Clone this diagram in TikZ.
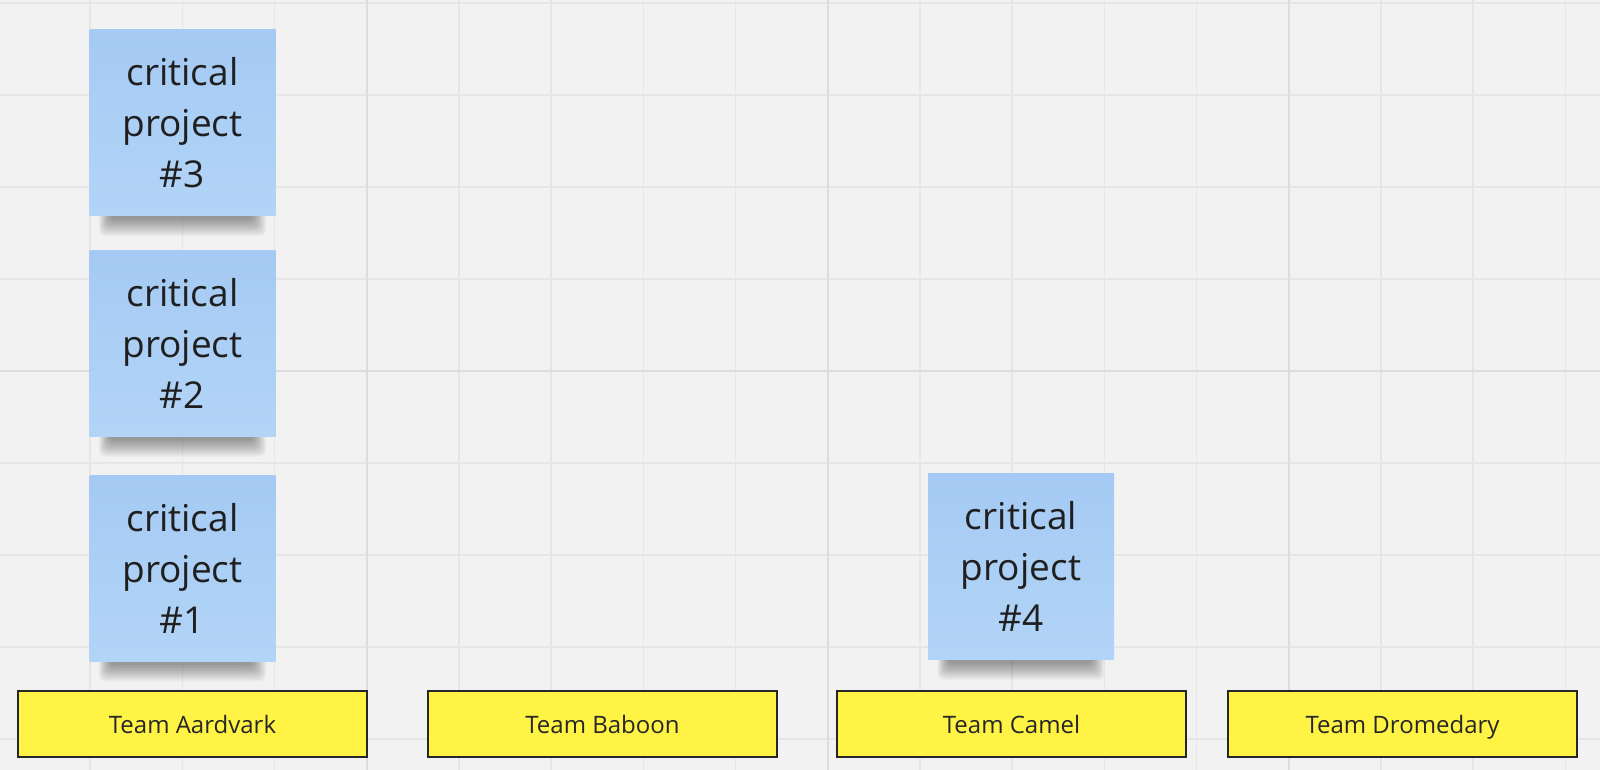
\documentclass[tikz,border=0pt]{standalone}
\usepackage{fontspec}
\setmainfont{Open Sans}
\usetikzlibrary{backgrounds,positioning}
\definecolor{boardgrey}{HTML}{F2F2F2}
\definecolor{gridgrey}{HTML}{E6E6E6}
\definecolor{majorgrey}{HTML}{DCDCDC}
\definecolor{notetop}{HTML}{A5CAF3}
\definecolor{notebottom}{HTML}{B2D4F7}
\definecolor{teamyellow}{HTML}{FFF445}
\definecolor{inkgrey}{HTML}{262626}
\tikzset{sticky/.style={rectangle,top color=notetop,bottom color=notebottom,minimum width=93pt,minimum height=93pt,inner sep=0,align=center,text=black!88,font=\fontsize{18.5}{25.5}\selectfont},
    teamlabel/.style={rectangle,draw=inkgrey,line width=0.8pt,fill=teamyellow,minimum width=174.5pt,minimum height=33pt,inner sep=0,text height=12.4pt,text depth=2.6pt,text=inkgrey,font=\fontsize{12}{14}\selectfont},
    gridline/.style={gridgrey,line width=0.8pt},
    majorline/.style={majorgrey,line width=1pt}
}
\newcommand{\noteshadow}[1]
{
% args: (name of the sticky note)
    \foreach \i in {0,...,11}
        \fill [black,opacity=0.035,rounded corners=3pt] ([xshift=5pt+\i*0.5pt,yshift=3pt]#1.south west) rectangle ([xshift=-5pt-\i*0.6pt,yshift=-10pt+\i*0.75pt]#1.south east);
}

\begin{document}
\begin{tikzpicture}[x=0.5pt,y=-0.5pt]
\useasboundingbox (0,0) rectangle (1600,770);

%% board and grid
\begin{scope}[on background layer]
\fill [boardgrey] (0,0) rectangle (1600,770);
\foreach \i in {0,...,17}
    \draw [gridline] (-2+92.2*\i,0) -- (-2+92.2*\i,770);
\foreach \j in {0,...,8}
    \draw [gridline] (0,3+92*\j) -- (1600,3+92*\j);
\foreach \i in {4,9,14}
    \draw [majorline] (-2+92.2*\i,0) -- (-2+92.2*\i,770);
\draw [majorline] (0,371) -- (1600,371);
\end{scope}

%% team labels
\node (aardvark) at (192.5,724) [teamlabel] {Team Aardvark};
\node (baboon) at (602.5,724) [teamlabel] {Team Baboon};
\node (camel) at (1011.5,724) [teamlabel] {Team Camel};
\node (dromedary) at (1402.5,724) [teamlabel] {Team Dromedary};

%% sticky notes
\node (critA) at (182.5,568) [sticky] {critical\\project\\\#1};
\node (critB) [sticky,above=19pt of critA] {critical\\project\\\#2};
\node (critC) [sticky,above=17pt of critB] {critical\\project\\\#3};
\node (critD) at (1021,566.5) [sticky] {critical\\project\\\#4};

% shadows under the notes
\begin{scope}[on background layer]
\noteshadow{critA}
\noteshadow{critB}
\noteshadow{critC}
\noteshadow{critD}
\end{scope}

\end{tikzpicture}
\end{document}
